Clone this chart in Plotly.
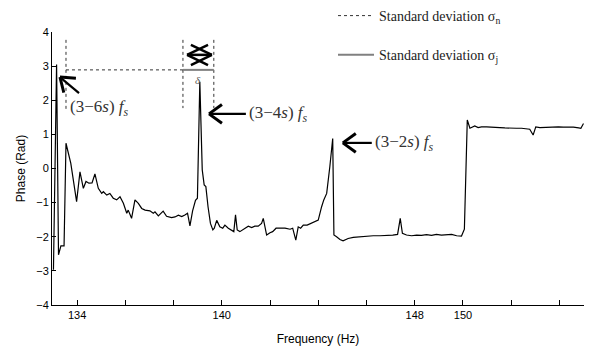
import math
import plotly.graph_objects as go

# ---- data ----
freq = [133.02, 133.15, 133.23, 133.33, 133.46, 133.54, 133.74, 133.84, 133.98, 134.12,
        134.26, 134.37, 134.49, 134.62, 134.74, 134.88, 135.02, 135.09, 135.23, 135.36,
        135.50, 135.64, 135.78, 135.92, 136.06, 136.12, 136.26, 136.40, 136.54, 136.68,
        136.82, 137.02, 137.16, 137.23, 137.37, 137.57, 137.71, 137.92, 138.06, 138.20,
        138.34, 138.47, 138.58, 138.68, 138.79, 138.91, 138.99, 139.09, 139.19, 139.27,
        139.34, 139.43, 139.53, 139.63, 139.69, 139.79, 139.92, 140.04, 140.13, 140.27,
        140.41, 140.50, 140.57, 140.64, 140.75, 140.89, 141.10, 141.24, 141.37, 141.51,
        141.65, 141.72, 141.79, 141.86, 142.00, 142.11, 142.25, 142.41, 142.62, 142.83,
        142.94, 143.07, 143.17, 143.27, 143.38, 143.54, 143.72, 143.86, 144.00, 144.14,
        144.23, 144.35, 144.41, 144.48, 144.60, 144.65, 144.76, 144.90, 145.03, 145.24,
        145.45, 145.73, 146.00, 146.28, 146.56, 146.83, 147.09, 147.29, 147.40, 147.49,
        147.66, 147.87, 148.08, 148.28, 148.49, 148.70, 148.90, 149.11, 149.32, 149.53,
        149.74, 149.94, 150.06, 150.18, 150.29, 150.39, 150.49, 150.63, 150.77, 150.98,
        151.12, 151.32, 151.53, 151.74, 151.94, 152.22, 152.43, 152.64, 152.77, 152.91,
        153.02, 153.19, 153.47, 153.75, 153.96, 154.16, 154.37, 154.58, 154.80, 154.89,
        155.00]
phase = [-2.97, 3.05, -2.53, -2.27, -2.27, 0.74, 0.15, -0.34, -0.97, -0.10,
         -0.58, -0.38, -0.43, -0.42, -0.16, -0.58, -0.73, -0.68, -0.78, -0.73,
         -0.87, -0.92, -0.83, -1.02, -1.31, -1.22, -1.46, -0.92, -1.02, -1.17,
         -1.22, -1.24, -1.31, -1.27, -1.39, -1.25, -1.40, -1.44, -1.42, -1.37,
         -1.41, -1.36, -1.31, -1.68, -1.24, -0.93, -0.87, 2.54, -0.04, -0.48,
         -0.53, -1.12, -1.61, -1.80, -1.75, -1.52, -1.71, -1.75, -1.66, -1.75,
         -1.80, -1.85, -1.36, -1.80, -1.85, -1.78, -1.69, -1.73, -1.69, -1.69,
         -1.61, -1.46, -1.75, -1.95, -1.88, -1.85, -1.75, -1.75, -1.75, -1.78,
         -1.75, -2.10, -1.71, -1.75, -1.66, -1.66, -1.61, -1.56, -1.51, -1.12,
         -0.92, -0.73, -0.43, 0.05, 0.88, -1.95, -2.00, -2.08, -2.12, -2.05,
         -2.02, -2.00, -1.98, -1.97, -1.97, -1.97, -1.95, -1.93, -1.46, -1.90,
         -1.95, -1.97, -1.95, -1.96, -1.94, -1.96, -1.93, -1.95, -1.95, -1.93,
         -1.97, -1.98, -1.78, 1.42, 1.18, 1.22, 1.25, 1.20, 1.22, 1.22,
         1.21, 1.20, 1.20, 1.19, 1.18, 1.18, 1.18, 1.16, 1.15, 0.98,
         1.22, 1.20, 1.21, 1.20, 1.22, 1.21, 1.22, 1.21, 1.19, 1.18,
         1.32]

major_ticks = [134, 140, 148, 150]
minor_ticks = [136, 138, 142, 144, 146, 152, 154]
y_ticks = [-4, -3, -2, -1, 0, 1, 2, 3, 4]

X_RANGE = [132.96, 155.02]
Y_RANGE = [-4, 4]

# deviation marker geometry (data units)
sn_x = [133.54, 133.54, None, 133.54, 138.39, None, 138.39, 138.39, None, 139.67, 139.67]
sn_y = [3.77, 1.71, None, 2.89, 2.89, None, 3.77, 1.77, None, 3.77, 1.77]
sj_x = [138.39, 139.67]
sj_y = [2.89, 2.89]

labels = ["(3\u22126<i>s</i>) <i>f</i><sub><i>s</i></sub>",
          "(3\u22124<i>s</i>) <i>f</i><sub><i>s</i></sub>",
          "(3\u22122<i>s</i>) <i>f</i><sub><i>s</i></sub>"]
arrow_tip = [(133.29, 2.68), (139.47, 1.60), (145.02, 0.75)]
arrow_tail = [(134.08, 2.21), (141.00, 1.60), (146.22, 0.75)]
label_pos = [(133.62, 1.77), (141.04, 1.60), (146.27, 0.75)]

# pixel scale of the plot area (for arrowhead geometry)
PW, PH = 589 - 52 - 5, 347 - 32 - 42
XS = PW / (X_RANGE[1] - X_RANGE[0])
YS = PH / (Y_RANGE[1] - Y_RANGE[0])

fig = go.Figure()
fig.add_trace(go.Scatter(x=freq, y=phase, mode="lines",
                         line=dict(color="black", width=1.2), showlegend=False))
fig.add_trace(go.Scatter(x=sn_x, y=sn_y, mode="lines", name="Standard deviation \u03c3<sub>n</sub>",
                         legendgroup="a",
                         line=dict(color="#333", width=1, dash="dot")))
fig.add_trace(go.Scatter(x=sj_x, y=sj_y, mode="lines", name="Standard deviation \u03c3<sub>j</sub>",
                         legendgroup="b",
                         line=dict(color="#808080", width=2)))

shapes = []


def seg(x0, y0, x1, y1, w):
    shapes.append(dict(type="line", xref="x", yref="y", x0=x0, y0=y0, x1=x1, y1=y1,
                       line=dict(color="black", width=w)))


# arrows: shaft + open chevron head
for (tx, ty), (ax, ay) in zip(arrow_tip, arrow_tail):
    seg(tx, ty, ax, ay, 2.2)
    dx, dy = (ax - tx) * XS, -(ay - ty) * YS
    ang = math.atan2(dy, dx)
    for s in (-1, 1):
        a = ang + s * math.radians(36)
        ex = tx + 16 * math.cos(a) / XS
        ey = ty - 16 * math.sin(a) / YS
        seg(tx, ty, ex, ey, 3)

# double arrow (overlapping heads)
cx_l, cx_r, cy = 138.56, 139.59, 3.33
for x0, y0, x1, y1 in [(cx_l, cy, cx_r, cy),
                       (cx_l, cy, 139.43, 3.62), (cx_l, cy, 139.43, 3.03),
                       (cx_r, cy, 138.72, 3.62), (cx_r, cy, 138.72, 3.03)]:
    seg(x0, y0, x1, y1, 2.5)

annotations = []
for (lx, ly), t in zip(label_pos, labels):
    annotations.append(dict(x=lx, y=ly, xref="x", yref="y", text=t, showarrow=False,
                            xanchor="left", yanchor="middle",
                            font=dict(family="Liberation Serif", size=17, color="#333")))
annotations.append(dict(x=139.01, y=2.6, xref="x", yref="y", text="<i>\u03b4</i>", showarrow=False,
                        font=dict(family="Liberation Serif", size=11, color="#555")))

fig.update_layout(
    width=589, height=347,
    margin=dict(l=52, r=5, t=32, b=42, autoexpand=False),
    paper_bgcolor="white", plot_bgcolor="white",
    font=dict(family="Liberation Sans", size=11, color="black"),
    annotations=annotations, shapes=shapes,
    legend=dict(xref="container", yref="container", x=333 / 589, y=1.0,
                xanchor="left", yanchor="top",
                font=dict(family="Liberation Serif", size=14, color="#222"),
                bgcolor="rgba(0,0,0,0)", tracegroupgap=18, traceorder="grouped",
                itemwidth=36),
)
fig.update_xaxes(range=X_RANGE, tickmode="array", tickvals=major_ticks, automargin=False,
                 ticks="inside", ticklen=5, tickcolor="black", showline=True, linecolor="black",
                 linewidth=1, showgrid=False, zeroline=False, mirror=False,
                 minor=dict(tickmode="array", tickvals=minor_ticks, ticks="inside", ticklen=5,
                            tickcolor="black", showgrid=False),
                 title=dict(text="Frequency (Hz)", font=dict(size=12), standoff=14))
fig.update_yaxes(range=Y_RANGE, tickmode="array", tickvals=y_ticks, ticks="inside", ticklen=4,
                 tickcolor="black", showline=True, linecolor="black", linewidth=1,
                 showgrid=False, zeroline=False, automargin=False,
                 title=dict(text="Phase (Rad)", font=dict(size=12), standoff=8))
fig.write_html("out.html")
